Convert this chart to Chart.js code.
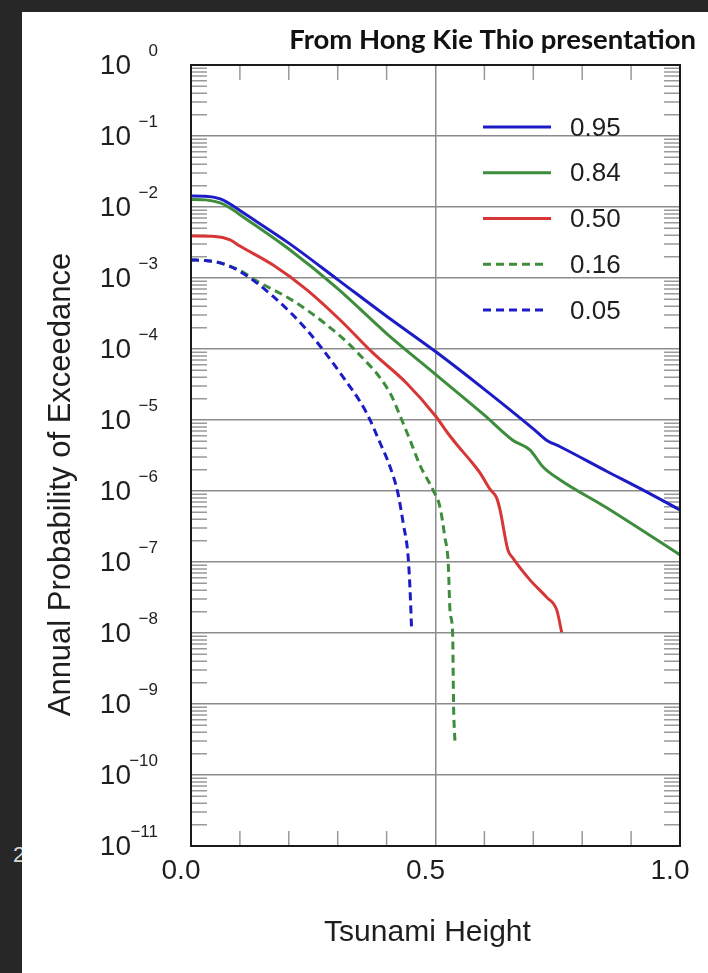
<!DOCTYPE html>
<html>
<head>
<meta charset="utf-8">
<script src="https://cdn.jsdelivr.net/npm/chart.js@4.4.0/dist/chart.umd.min.js"></script>
<style>
  html, body { margin: 0; padding: 0; }
  body { width: 708px; height: 973px; background: #272727; position: relative; overflow: hidden; }
  #slide-num { position: absolute; left: 13px; top: 842px; font: 22px "Liberation Sans", Arial, sans-serif; color: #d8d8d8; }
  #panel { position: absolute; left: 22px; top: 12px; width: 686px; height: 961px; background: #fff; }
</style>
</head>
<body>
<div id="slide-num">2</div>
<div id="panel"><canvas id="chart"></canvas></div>
<script>
// Hazard curves: annual probability of exceedance vs tsunami height, by fractile
const LABELS = ["0.95", "0.84", "0.50", "0.16", "0.05"];

const x95 = [0, 0.03, 0.06, 0.08, 0.1, 0.2, 0.3, 0.4, 0.5, 0.6, 0.7, 0.727, 0.755, 0.85, 0.92, 1.0];
const p95 = [1.43e-2, 1.42e-2, 1.30e-2, 1.10e-2, 8.9e-3, 3.1e-3, 9.5e-4, 2.89e-4, 9.2e-5, 2.7e-5, 7.5e-6, 5.2e-6, 4.2e-6, 1.9e-6, 1.07e-6, 5.4e-7];

const x84 = [0, 0.03, 0.06, 0.08, 0.1, 0.2, 0.3, 0.4, 0.5, 0.6, 0.658, 0.693, 0.72, 0.755, 0.85, 1.0];
const p84 = [1.28e-2, 1.26e-2, 1.14e-2, 9.7e-3, 7.8e-3, 2.56e-3, 7.1e-4, 1.65e-4, 4.4e-5, 1.17e-5, 5.2e-6, 3.8e-6, 2.18e-6, 1.43e-6, 5.8e-7, 1.26e-7];

const x50 = [0, 0.05, 0.08, 0.1, 0.168, 0.237, 0.305, 0.372, 0.441, 0.5, 0.526, 0.546, 0.571, 0.591, 0.611, 0.625, 0.632, 0.648, 0.658, 0.693, 0.727, 0.748, 0.758];
const p50 = [3.9e-3, 3.85e-3, 3.43e-3, 2.82e-3, 1.52e-3, 6.8e-4, 2.56e-4, 8.8e-5, 3.3e-5, 1.14e-5, 6.4e-6, 4.3e-6, 2.7e-6, 1.8e-6, 1.07e-6, 8.0e-7, 5.4e-7, 1.48e-7, 1.14e-7, 5.6e-8, 3.2e-8, 2.1e-8, 1.03e-8];

const x16 = [0, 0.03, 0.06, 0.1, 0.134, 0.202, 0.27, 0.339, 0.407, 0.427, 0.448, 0.468, 0.495, 0.509, 0.519, 0.526, 0.530, 0.535, 0.537, 0.540];
const p16 = [1.8e-3, 1.76e-3, 1.63e-3, 1.28e-3, 9.1e-4, 5.1e-4, 2.4e-4, 9.1e-5, 2.4e-5, 1.17e-5, 5.2e-6, 2.32e-6, 1.03e-6, 6.0e-7, 2.27e-7, 9.7e-8, 1.9e-8, 1.0e-8, 9.2e-10, 2.8e-10];

const x05 = [0, 0.03, 0.06, 0.1, 0.168, 0.237, 0.305, 0.359, 0.387, 0.407, 0.423, 0.434, 0.444, 0.448, 0.451];
const p05 = [1.8e-3, 1.76e-3, 1.63e-3, 1.24e-3, 5.5e-4, 1.85e-4, 4.6e-5, 1.26e-5, 4.7e-6, 2.2e-6, 9.4e-7, 3.5e-7, 1.19e-7, 4.0e-8, 1.2e-8];

const X_TICKS = [0, 0.5, 1.0];
const Y_EXPONENTS = [0, -1, -2, -3, -4, -5, -6, -7, -8, -9, -10, -11];

const FONT = '"Liberation Sans", Arial, Helvetica, sans-serif';
const BLUE = "#1c1cc6", GREEN = "#3d8d3d", RED = "#d63636";

const pts = (xs, ps) => xs.map((x, i) => ({ x, y: ps[i] }));

function series(i, xs, ps, color, dashed, order) {
  return {
    label: LABELS[i], data: pts(xs, ps),
    borderColor: color, borderWidth: 3, borderDash: dashed ? [8, 5] : [],
    pointRadius: 0, fill: false, cubicInterpolationMode: "monotone", order
  };
}

// frame, inward minor ticks, exponent labels, axis titles and the legend
const decorations = {
  id: "decorations",
  beforeDatasetsDraw(chart) {
    const { ctx, chartArea: a, scales: { x, y } } = chart;
    ctx.save();
    ctx.strokeStyle = "#9a9a9a";
    ctx.lineWidth = 1.5;
    ctx.beginPath();
    for (let e = -11; e < 0; e++) {
      for (let m = 2; m <= 9; m++) {
        const py = y.getPixelForValue(m * Math.pow(10, e));
        ctx.moveTo(a.left, py); ctx.lineTo(a.left + 16, py);
        ctx.moveTo(a.right, py); ctx.lineTo(a.right - 16, py);
      }
    }
    for (let i = 1; i < 10; i++) {
      if (i === 5) continue;
      const px = x.getPixelForValue(i / 10);
      ctx.moveTo(px, a.top); ctx.lineTo(px, a.top + 15);
      ctx.moveTo(px, a.bottom); ctx.lineTo(px, a.bottom - 15);
    }
    ctx.stroke();
    ctx.restore();
  },
  afterDatasetsDraw(chart) {
    const { ctx, chartArea: a, scales: { y } } = chart;
    ctx.save();
    ctx.strokeStyle = "#1a1a1a";
    ctx.lineWidth = 2;
    ctx.strokeRect(a.left, a.top, a.right - a.left, a.bottom - a.top);

    ctx.fillStyle = "#1e1e1e";
    ctx.textBaseline = "middle";
    ctx.textAlign = "right";
    Y_EXPONENTS.forEach(k => {
      const py = y.getPixelForValue(Math.pow(10, k));
      ctx.font = "28px " + FONT;
      ctx.fillText("10", a.left - 60, py + 1);
      ctx.font = "17px " + FONT;
      ctx.fillText(k === 0 ? "0" : "\u2212" + (-k), a.left - 33, py - 14);
    });

    // axis titles
    ctx.textAlign = "center";
    ctx.font = "30px " + FONT;
    ctx.fillText("Tsunami Height", (a.left + a.right) / 2 - 8, a.bottom + 87);
    ctx.save();
    ctx.translate(a.left - 130, (a.top + a.bottom) / 2 + 29);
    ctx.rotate(-Math.PI / 2);
    ctx.font = "31px " + FONT;
    ctx.fillText("Annual Probability of Exceedance", 0, 0);
    ctx.restore();

    // legend
    ctx.textAlign = "left";
    ctx.font = "26px " + FONT;
    chart.data.datasets.forEach((ds, i) => {
      const ly = a.top + 62 + i * 45.75;
      const dashed = ds.borderDash.length > 0;
      ctx.strokeStyle = ds.borderColor;
      ctx.lineWidth = 3;
      ctx.setLineDash(ds.borderDash);
      ctx.beginPath();
      ctx.moveTo(a.left + 292, ly);
      ctx.lineTo(a.left + 292 + (dashed ? 62 : 68), ly);
      ctx.stroke();
      ctx.setLineDash([]);
      ctx.fillText(ds.label, a.left + 379, ly + 1.5);
    });

    // slide caption
    ctx.textAlign = "right";
    ctx.textBaseline = "alphabetic";
    ctx.fillStyle = "#111";
    ctx.font = "bold 27.5px Lato, " + FONT;
    ctx.fillText("From Hong Kie Thio presentation", 674, 37);
    ctx.restore();
  }
};

new Chart(document.getElementById("chart"), {
  type: "line",
  data: {
    datasets: [
      series(0, x95, p95, BLUE, false, 2),
      series(1, x84, p84, GREEN, false, 3),
      series(2, x50, p50, RED, false, 4),
      series(3, x16, p16, GREEN, true, 1),
      series(4, x05, p05, BLUE, true, 0)
    ]
  },
  options: {
    responsive: true,
    maintainAspectRatio: false,
    animation: false,
    layout: { padding: { left: 0, right: 28, top: 53, bottom: 0 } },
    plugins: { legend: { display: false }, tooltip: { enabled: false } },
    scales: {
      x: {
        type: "linear", min: 0, max: 1,
        afterBuildTicks: s => { s.ticks = X_TICKS.map(v => ({ value: v })); },
        afterFit: s => { s.height = 127; },
        border: { display: false },
        grid: { color: "#8c8c8c", lineWidth: 1.5, drawTicks: false },
        ticks: {
          padding: 8, labelOffset: -10, maxRotation: 0, autoSkip: false,
          color: "#1e1e1e", font: { family: FONT, size: 28 },
          callback: v => v.toFixed(1)
        }
      },
      y: {
        type: "logarithmic", min: 1e-11, max: 1,
        afterBuildTicks: s => { s.ticks = Y_EXPONENTS.map(k => ({ value: Math.pow(10, k) })); },
        afterFit: s => { s.width = 169; },
        border: { display: false },
        grid: { color: "#8c8c8c", lineWidth: 1.5, drawTicks: false },
        ticks: { display: false }
      }
    }
  },
  plugins: [decorations]
});
</script>
</body>
</html>
